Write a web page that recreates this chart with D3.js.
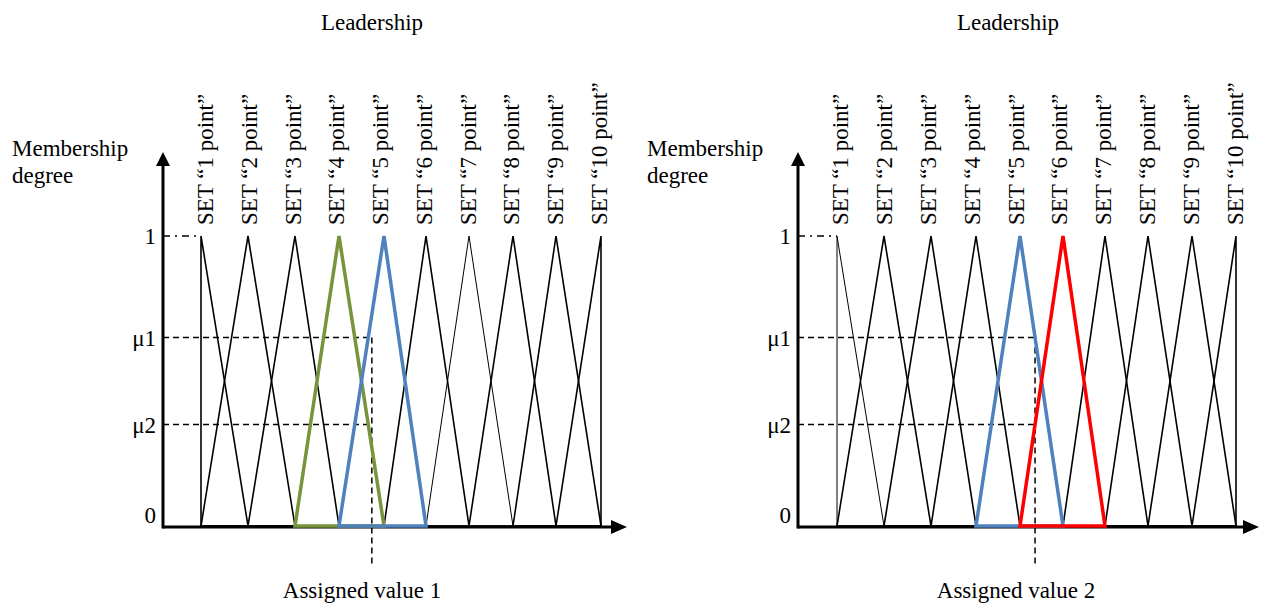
<!DOCTYPE html>
<html>
<head>
<meta charset="utf-8">
<script src="https://cdn.jsdelivr.net/npm/d3@7"></script>
<style>
  html, body { margin: 0; padding: 0; background: #fff; }
</style>
</head>
<body>
<svg id="chart" width="1261" height="606"></svg>
<script>
// ---------- data ----------
const setIndex = [1, 2, 3, 4, 5, 6, 7, 8, 9, 10];
const setLabels = setIndex.map(k => "SET \u201C" + k + " point\u201D");
const levelLabels = ["1", "\u03BC1", "\u03BC2", "0"];
const levelValues = [1, 0.65, 0.35, 0];
const muValues = [0.65, 0.35];
const panelTitles = ["Leadership", "Leadership"];
const assignedLabels = ["Assigned value 1", "Assigned value 2"];
const assignedValues = [4.73, 5.35];
const highlightSets1 = [4, 5];
const highlightSets2 = [5, 6];
const highlightColors1 = ["#77933C", "#4F81BD"];
const highlightColors2 = ["#4F81BD", "#FF0000"];
const thinSets1 = [7];
const thinSets2 = [1];

// ---------- layout ----------
const FONT = "'Liberation Serif', 'Times New Roman', 'DejaVu Serif', serif";
const FS = 23;
const svg = d3.select("#chart");

const panels = [
  { axisX: 163, peakRange: [201, 248, 295, 339, 384, 426, 469, 513, 556, 601],
    labelRange: [213, 607], axisEnd: 627, titleX: 372, assignedX: 362,
    highlight: highlightSets1, colors: highlightColors1, thin: thinSets1, assigned: assignedValues[0],
    title: panelTitles[0], assignedLabel: assignedLabels[0], memX: 12 },
  { axisX: 798, peakRange: [837, 884, 931, 976, 1020, 1063, 1105, 1148, 1192, 1236],
    labelRange: [848, 1243], axisEnd: 1259, titleX: 1008, assignedX: 1016,
    highlight: highlightSets2, colors: highlightColors2, thin: thinSets2, assigned: assignedValues[1],
    title: panelTitles[1], assignedLabel: assignedLabels[1], memX: 647 }
];

const y = d3.scaleLinear().domain([0, 1]).range([526, 236]);

function triangle(k) {
  if (k === 1) return [[1, 0], [1, 1], [2, 0]];
  if (k === 10) return [[9, 0], [10, 1], [10, 0]];
  return [[k - 1, 0], [k, 1], [k + 1, 0]];
}

function txt(g) {
  return g.append("text").attr("font-family", FONT).attr("font-size", FS).attr("fill", "#000");
}

panels.forEach(p => {
  const g = svg.append("g");
  const x = d3.scaleLinear().domain(setIndex).range(p.peakRange);
  const xl = d3.scaleLinear().domain([1, 10]).range(p.labelRange);
  const y0 = 527;
  const yTop = 152;

  // title
  txt(g).attr("x", p.titleX).attr("y", 30).attr("text-anchor", "middle").text(p.title);

  // y-axis label
  txt(g).attr("x", p.memX).attr("y", 156).text("Membership");
  txt(g).attr("x", p.memX).attr("y", 183).text("degree");

  // axes
  g.append("line").attr("x1", p.axisX).attr("x2", p.axisX).attr("y1", y0 + 1.5).attr("y2", yTop + 12)
    .attr("stroke", "#000").attr("stroke-width", 3);
  g.append("path").attr("d", `M${p.axisX - 7},${yTop + 14} L${p.axisX},${yTop} L${p.axisX + 7},${yTop + 14} Z`)
    .attr("fill", "#000");
  g.append("line").attr("x1", p.axisX).attr("x2", p.axisEnd - 12).attr("y1", y0).attr("y2", y0)
    .attr("stroke", "#000").attr("stroke-width", 3);
  g.append("path").attr("d", `M${p.axisEnd - 16},${y0 - 7} L${p.axisEnd},${y0} L${p.axisEnd - 16},${y0 + 7} Z`)
    .attr("fill", "#000");

  // level labels
  levelLabels.forEach((lab, i) => {
    const v = levelValues[i];
    txt(g).attr("x", p.axisX - 7).attr("y", y(v) + (v === 0 ? -3 : 8))
      .attr("text-anchor", "end").text(lab);
  });

  // dash-dot line at level 1
  g.append("line").attr("x1", p.axisX).attr("x2", x(1)).attr("y1", y(1)).attr("y2", y(1))
    .attr("stroke", "#000").attr("stroke-width", 1.3).attr("stroke-dasharray", "7,5,2,5");

  // dashed lines at mu levels
  muValues.forEach(m => {
    g.append("line").attr("x1", p.axisX).attr("x2", x(p.assigned)).attr("y1", y(m)).attr("y2", y(m))
      .attr("stroke", "#000").attr("stroke-width", 1.5).attr("stroke-dasharray", "6,4");
  });
  g.append("line").attr("x1", x(p.assigned)).attr("x2", x(p.assigned))
    .attr("y1", y(muValues[0])).attr("y2", 567)
    .attr("stroke", "#000").attr("stroke-width", 1.5).attr("stroke-dasharray", "6,4");

  // membership triangles (black)
  const line = d3.line().x(d => x(d[0])).y(d => y(d[1]));
  setIndex.forEach(k => {
    if (p.highlight.includes(k)) return;
    g.append("path").attr("d", line(triangle(k)) + "Z")
      .attr("fill", "none").attr("stroke", "#000")
      .attr("stroke-width", p.thin.includes(k) ? 1 : 1.6)
      .attr("stroke-linejoin", "miter");
  });
  // highlighted triangles
  p.highlight.forEach((k, i) => {
    g.append("path").attr("d", line(triangle(k)) + "Z")
      .attr("fill", "none").attr("stroke", p.colors[i])
      .attr("stroke-width", 3.5).attr("stroke-linejoin", "miter");
  });

  // set labels (rotated)
  setIndex.forEach((k, i) => {
    txt(g).attr("transform", `translate(${xl(k)},225) rotate(-90)`).text(setLabels[i]);
  });

  // assigned value label
  txt(g).attr("x", p.assignedX).attr("y", 598).attr("text-anchor", "middle").text(p.assignedLabel);
});
</script>
</body>
</html>
